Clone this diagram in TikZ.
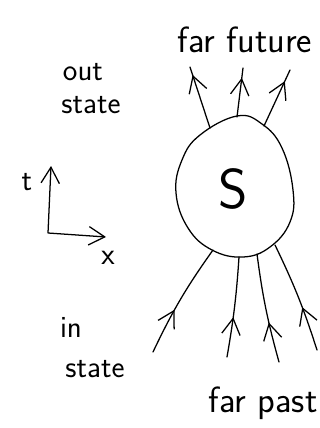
\documentclass[tikz,border=0pt]{standalone}
\usepackage{xcolor}
\usetikzlibrary{arrows.meta, decorations.markings}

\tikzset{
  ink/.style={line width=0.9pt, line cap=round, line join=round},
  barb/.tip={Straight Barb[length=4mm, width=4.6mm, line width=0.9pt]},
  flow/.style={ink, postaction={decorate},
    decoration={markings, mark=at position #1 with {\arrow{barb}}}},
  hand/.style={font=\sffamily\fontsize{26}{28}\selectfont, inner sep=0pt},
  side/.style={font=\sffamily\fontsize{22}{24}\selectfont, inner sep=0pt}
}

\begin{document}
\begin{tikzpicture}[x=0.025cm, y=-0.025cm]
  \useasboundingbox (0,0) rectangle (320,428);

  % the blob
  \draw[ink] plot[smooth cycle, tension=0.7] coordinates {
    (237,116) (262,124) (282,148) (293,190) (290,222) (270,247)
    (243,257) (212,250) (188,228) (176,193) (182,160) (200,135)};
  \node[font=\sffamily\fontsize{40}{40}\selectfont, inner sep=0pt] (S) at (233,189) {S};

  % outgoing lines
  \coordinate (o1) at (210,128);
  \coordinate (o2) at (237,117);
  \coordinate (o3) at (264,126);
  \coordinate (f1) at (190,67);
  \coordinate (f2) at (243,68);
  \coordinate (f3) at (290,70);
  \draw[flow=0.87] (o1) -- (f1);
  \draw[flow=0.8] (o2) -- (f2);
  \draw[flow=0.8] (o3) -- (f3);

  % incoming lines
  \coordinate (i1) at (213,250);
  \coordinate (i2) at (239,257);
  \coordinate (i3) at (257,254);
  \coordinate (i4) at (275,245);
  \coordinate (p1) at (153,352);
  \coordinate (p2) at (227,357);
  \coordinate (p3) at (279,362);
  \coordinate (p4) at (317,350);
  \draw[flow=0.4] (p1) to[bend left=5] (i1);
  \draw[flow=0.4] (p2) to[bend right=3] (i2);
  \draw[flow=0.37] (p3) to[bend left=4] (i3);
  \draw[flow=0.4] (p4) to[bend right=4] (i4);

  \node[hand, anchor=base] (future) at (245,52) {far future};
  \node[hand, anchor=base] (past) at (263,412) {far past};

  % axes
  \coordinate (corner) at (48,233);
  \coordinate (ttip) at (51,166);
  \coordinate (xtip) at (106,237);
  \draw[ink, barb-barb] (ttip) -- (corner) -- (xtip);
  \node[side] (tlab) at (27,182) {t};
  \node[side] (xlab) at (108,258) {x};

  \node[side, anchor=base] (out) at (83,80) {out};
  \node[side, anchor=base] (outstate) at (91,113) {state};
  \node[side, anchor=base] (in) at (71,337) {in};
  \node[side, anchor=base] (instate) at (95,377) {state};
\end{tikzpicture}
\end{document}
